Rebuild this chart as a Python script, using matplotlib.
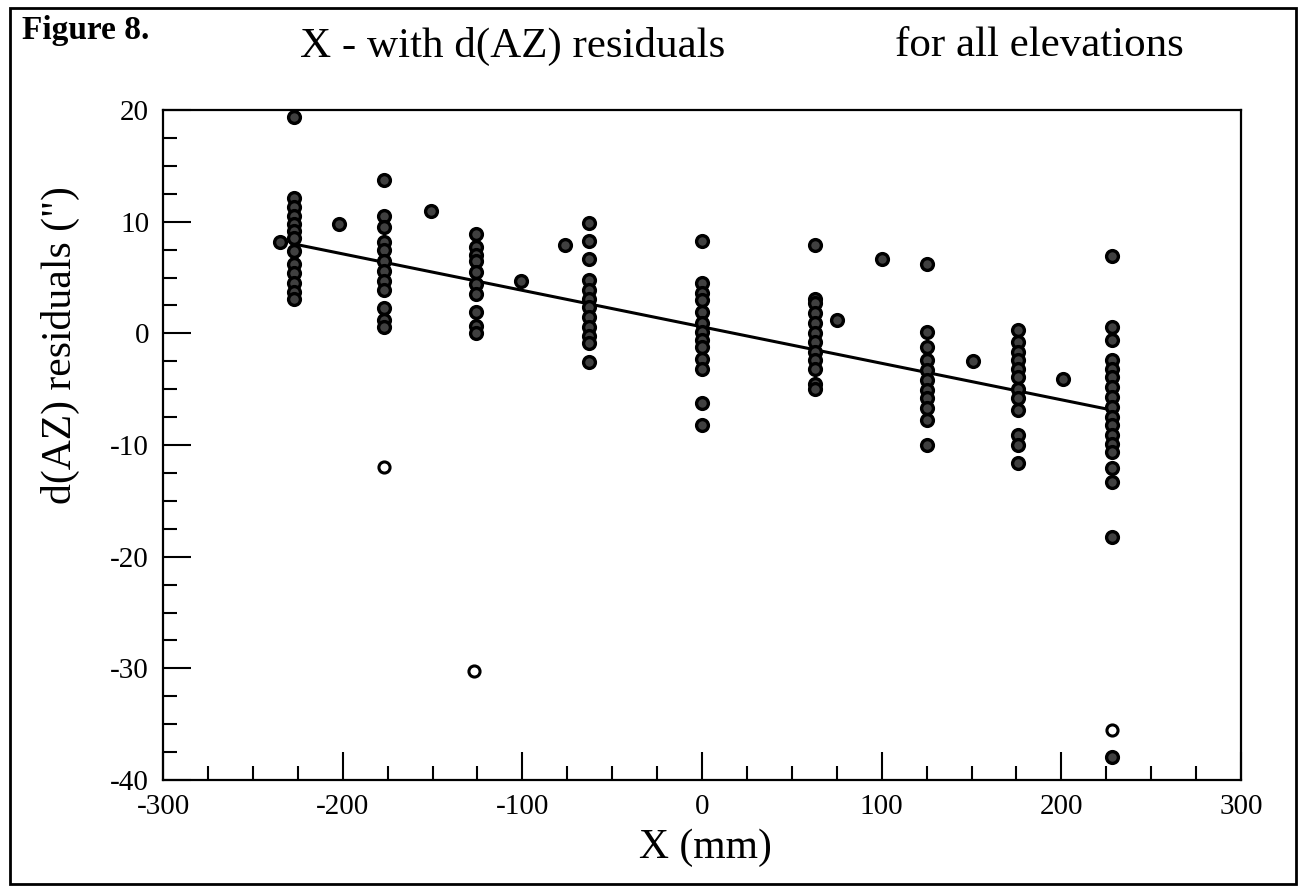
import matplotlib
matplotlib.use("Agg")
import matplotlib.pyplot as plt
from matplotlib.ticker import MultipleLocator
from matplotlib.patches import Rectangle

# x positions of the measurement columns (mm)
col_x = [-227, -177, -126, -63, 0, 63, 125, 176, 228]

# d(AZ) residuals (arcsec)
col1_y = [19.4, 12.1, 11.3, 10.5, 9.8, 9.2, 8.5, 7.4, 6.2, 5.4, 4.5, 3.7, 3.1]
col2_y = [13.7, 10.5, 9.5, 8.2, 7.5, 6.5, 5.6, 4.7, 3.9, 2.3, 1.2, 0.6]
col3_y = [8.9, 7.7, 7.0, 6.5, 5.5, 4.4, 3.5, 1.9, 0.7, 0.0]
col4_y = [9.9, 8.3, 6.7, 4.8, 3.9, 3.1, 2.4, 1.5, 0.6, -0.2, -0.9, -2.6]
col5_y = [8.3, 4.5, 3.6, 3.0, 1.9, 0.9, 0.1, -0.6, -1.2, -2.3, -3.2, -6.2, -8.2]
col6_y = [7.9, 3.1, 2.7, 1.8, 0.9, 0.0, -0.8, -1.7, -2.4, -3.2, -4.5, -5.0]
col7_y = [6.2, 0.1, -1.2, -2.4, -3.3, -4.2, -5.1, -5.8, -6.7, -7.8, -10.0]
col8_y = [0.3, -0.8, -1.7, -2.4, -3.2, -3.9, -5.0, -5.8, -6.9, -9.1, -10.0, -11.6]
col9_y = [6.9, 0.6, -0.6, -2.4, -3.2, -3.9, -4.8, -5.7, -6.6, -7.5, -8.2, -9.1,
          -9.9, -10.6, -12.1, -13.3, -18.2, -37.9]
col_y = [col1_y, col2_y, col3_y, col4_y, col5_y, col6_y, col7_y, col8_y, col9_y]

# points off the columns
extra_x = [-235, -202, -151, -101, -76, 75, 100, 151, 201]
extra_y = [8.2, 9.8, 11.0, 4.7, 7.9, 1.2, 6.7, -2.5, -4.1]

# hollow markers (outliers)
open_x = [-177, -127, 228]
open_y = [-12.0, -30.2, -35.5]

# fitted line
fit_x = [-224, 226]
fit_y = [7.9, -6.8]

plt.rcParams['font.family'] = ['Liberation Serif', 'DejaVu Serif']
plt.rcParams['axes.unicode_minus'] = False

fig = plt.figure(figsize=(13.04, 8.9), dpi=100)
W, H = 1304, 890
ax = fig.add_axes([163 / W, 1 - 780 / H, (1241 - 163) / W, (780 - 110) / H])

xs, ys = [], []
for x, yy in zip(col_x, col_y):
    xs += [x] * len(yy)
    ys += yy
xs += extra_x
ys += extra_y

ax.plot(fit_x, fit_y, color='black', lw=2.2, zorder=2)
ax.plot(xs, ys, 'o', ms=8.5, mew=2.4, mfc='0.25', mec='black', zorder=3)
ax.plot(open_x, open_y, 'o', ms=8, mew=2.2, mfc='white', mec='black', zorder=3)

ax.set_xlim(-300, 300)
ax.set_ylim(-40, 20)
ax.xaxis.set_major_locator(MultipleLocator(100))
ax.xaxis.set_minor_locator(MultipleLocator(25))
ax.yaxis.set_major_locator(MultipleLocator(10))
ax.yaxis.set_minor_locator(MultipleLocator(2.5))
ax.tick_params(which='both', direction='in', width=1.5, top=False, right=False,
               labelsize=21)
ax.tick_params(which='major', length=20, pad=10)
ax.tick_params(which='minor', length=10)
for s in ax.spines.values():
    s.set_linewidth(1.6)

# titles and labels
fig.text(22 / W, 1 - 31 / H, "Figure 8.", fontsize=24, fontweight='bold', va='center')
fig.text(300 / W, 1 - 46 / H, "X - with d(AZ) residuals", fontsize=31, va='center')
fig.text(895 / W, 1 - 46 / H, "for all elevations", fontsize=31, va='center')
fig.text(705 / W, 1 - 848 / H, "X (mm)", fontsize=30, ha='center', va='center')
fig.text(60 / W, 1 - 345 / H, 'd(AZ) residuals (")', fontsize=30, rotation=90,
         ha='center', va='center')

# border round the whole figure
fig.patches.append(Rectangle((10 / W, 6 / H), 1286 / W, 876 / H, transform=fig.transFigure,
                             fill=False, lw=2, ec='black'))

fig.savefig("out.png", dpi=100)
